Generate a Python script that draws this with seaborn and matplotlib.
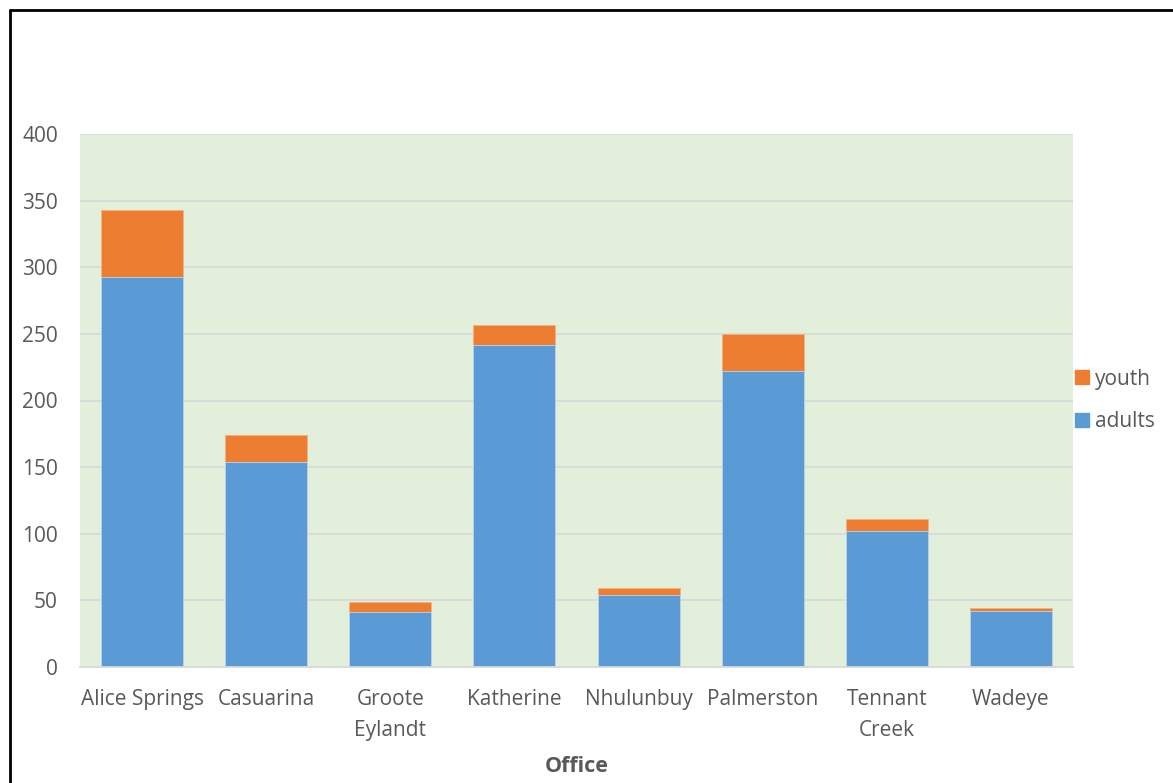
import matplotlib
matplotlib.use('Agg')
from matplotlib import pyplot as plt
from matplotlib.lines import Line2D
from matplotlib.patches import Patch
import pandas as pd
import seaborn as sns


OFFICES = ['Alice Springs', 'Casuarina', 'Groote\nEylandt', 'Katherine',
           'Nhulunbuy', 'Palmerston', 'Tennant\nCreek', 'Wadeye']
ADULTS = [293, 154, 41, 242, 54, 222, 102, 42]
YOUTH = [50, 20, 8, 15, 5, 28, 9, 2]
Y_TICKS = [0, 50, 100, 150, 200, 250, 300, 350, 400]

COLOR = {
    'blue': '#5B9BD5',
    'orange': '#ED7D31',
    'bg': '#E2EFDA',
    'grid': '#D9D9D9',
    'text': '#595959',
}

sns.set_style('white')
plt.rcParams['font.family'] = ['Open Sans', 'DejaVu Sans']

df = pd.DataFrame({'office': OFFICES, 'adults': ADULTS, 'youth': YOUTH})
df['total'] = df['adults'] + df['youth']

fig = plt.figure(figsize=(11.73, 7.83), dpi=100)
ax = fig.add_axes([80 / 1173, 1 - 667 / 783, (1073 - 80) / 1173, (667 - 134) / 783])
ax.set_facecolor(COLOR['bg'])

# stacked: totals in orange first, adults in blue on top of them
sns.barplot(data=df, x='office', y='total', color=COLOR['orange'], width=0.66,
            saturation=1, edgecolor='#F4B183', linewidth=0.6, ax=ax)
sns.barplot(data=df, x='office', y='adults', color=COLOR['blue'], width=0.66,
            saturation=1, edgecolor='#BDD7EE', linewidth=0.6, ax=ax)

ax.set_ylim(0, 400)
ax.set_xlim(-0.5, len(OFFICES) - 0.5)
ax.set_yticks(Y_TICKS)
ax.yaxis.grid(True, color=COLOR['grid'], linewidth=1.3)
ax.set_axisbelow(True)
for s in ['top', 'right', 'left']:
    ax.spines[s].set_visible(False)
ax.spines['bottom'].set_color(COLOR['grid'])
ax.spines['bottom'].set_linewidth(1.3)
ax.tick_params(axis='both', length=0, labelsize=15, colors=COLOR['text'])
ax.tick_params(axis='x', pad=16)
ax.tick_params(axis='y', pad=16)
ax.set_xticks(range(len(OFFICES)))
ax.set_xticklabels(OFFICES, linespacing=1.6)
ax.set_ylabel('')
ax.set_xlabel('Office', fontsize=15.5, fontweight='bold', color=COLOR['text'], labelpad=11)

handles = [Patch(color=COLOR['orange']), Patch(color=COLOR['blue'])]
ax.legend(handles, ['youth', 'adults'], loc='center left', bbox_to_anchor=(1.0, 0.5),
          frameon=False, fontsize=15, labelcolor=COLOR['text'], handlelength=0.65,
          handleheight=0.65, handletextpad=0.3, labelspacing=1.05, borderaxespad=0.0,
          borderpad=0.1)

# frame lines of the original image (left and top)
fig.add_artist(Line2D([10 / 1173, 10 / 1173], [0, 1 - 10 / 783], color='black', linewidth=2,
                      transform=fig.transFigure))
fig.add_artist(Line2D([10 / 1173, 1], [1 - 10 / 783, 1 - 10 / 783], color='black', linewidth=2,
                      transform=fig.transFigure))

fig.savefig('out.png', dpi=100)
